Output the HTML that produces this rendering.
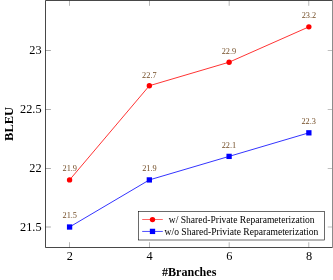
<!DOCTYPE html><html><head><meta charset="utf-8"><style>html,body{margin:0;padding:0;background:#fff}svg{display:block}.t{filter:blur(0.3px)}text{font-family:"Liberation Serif",serif}</style></head><body>
<svg width="333" height="280" viewBox="0 0 333 280">
<rect width="333" height="280" fill="#fff"/>
<rect x="69.30" y="242.2" width="0.55" height="5.3" fill="#808080"/><rect x="69.30" y="0.5" width="0.55" height="5.3" fill="#808080"/>
<rect x="149.06" y="242.2" width="0.55" height="5.3" fill="#808080"/><rect x="149.06" y="0.5" width="0.55" height="5.3" fill="#808080"/>
<rect x="228.83" y="242.2" width="0.55" height="5.3" fill="#808080"/><rect x="228.83" y="0.5" width="0.55" height="5.3" fill="#808080"/>
<rect x="308.59" y="242.2" width="0.55" height="5.3" fill="#808080"/><rect x="308.59" y="0.5" width="0.55" height="5.3" fill="#808080"/>
<rect x="45.5" y="50.12" width="5.4" height="0.66" fill="#808080"/><rect x="327.7" y="50.20" width="4.6" height="0.5" fill="#808080"/>
<rect x="45.5" y="109.09" width="5.4" height="0.66" fill="#808080"/><rect x="327.7" y="109.17" width="4.6" height="0.5" fill="#808080"/>
<rect x="45.5" y="168.09" width="5.4" height="0.66" fill="#808080"/><rect x="327.7" y="168.17" width="4.6" height="0.5" fill="#808080"/>
<rect x="45.5" y="226.67" width="5.4" height="0.66" fill="#808080"/><rect x="327.7" y="226.75" width="4.6" height="0.5" fill="#808080"/>
<path d="M332.5 0.5 H45.5 V247.5 H332.5" fill="none" stroke="#000" stroke-width="0.72" stroke-linecap="square"/>
<rect x="332" y="0" width="1" height="248" fill="#8c8c8c"/>
<polyline points="69.58,179.92 149.34,85.74 229.10,62.19 308.86,26.87" fill="none" stroke="#f00" stroke-width="0.8"/>
<polyline points="69.58,227.01 149.34,179.92 229.10,156.38 308.86,132.83" fill="none" stroke="#00f" stroke-width="0.8"/>
<circle cx="69.58" cy="179.92" r="2.7" fill="#f00"/>
<circle cx="149.34" cy="85.74" r="2.7" fill="#f00"/>
<circle cx="229.10" cy="62.19" r="2.7" fill="#f00"/>
<circle cx="308.86" cy="26.87" r="2.7" fill="#f00"/>
<rect x="66.93" y="224.36" width="5.3" height="5.3" fill="#00f"/>
<rect x="146.69" y="177.27" width="5.3" height="5.3" fill="#00f"/>
<rect x="226.45" y="153.73" width="5.3" height="5.3" fill="#00f"/>
<rect x="306.21" y="130.18" width="5.3" height="5.3" fill="#00f"/>
<g class="t">
<text x="69.78" y="171.2" font-size="8.3" fill="#734d26" text-anchor="middle">21.9</text>
<text x="149.39" y="77.5" font-size="8.3" fill="#734d26" text-anchor="middle">22.7</text>
<text x="228.95" y="54" font-size="8.3" fill="#734d26" text-anchor="middle">22.9</text>
<text x="308.96" y="18" font-size="8.3" fill="#734d26" text-anchor="middle">23.2</text>
<text x="69.78" y="218" font-size="8.3" fill="#734d26" text-anchor="middle">21.5</text>
<text x="149.49" y="171" font-size="8.3" fill="#734d26" text-anchor="middle">21.9</text>
<text x="228.95" y="148" font-size="8.3" fill="#734d26" text-anchor="middle">22.1</text>
<text x="308.66" y="124" font-size="8.3" fill="#734d26" text-anchor="middle">22.3</text>
<text x="69.88" y="259.5" font-size="12.3" text-anchor="middle" fill="#000">2</text>
<text x="149.64" y="259.5" font-size="12.3" text-anchor="middle" fill="#000">4</text>
<text x="229.40" y="259.5" font-size="12.3" text-anchor="middle" fill="#000">6</text>
<text x="309.16" y="259.5" font-size="12.3" text-anchor="middle" fill="#000">8</text>
<text x="41.6" y="230.71" font-size="12.3" text-anchor="end" fill="#000">21.5</text>
<text x="41.6" y="171.85" font-size="12.3" text-anchor="end" fill="#000">22</text>
<text x="41.6" y="112.98" font-size="12.3" text-anchor="end" fill="#000">22.5</text>
<text x="41.6" y="54.12" font-size="12.3" text-anchor="end" fill="#000">23</text>
<text x="189.2" y="275.9" font-size="12.1" font-weight="bold" text-anchor="middle">#Branches</text>
<text transform="translate(12.6,123.9) rotate(-90)" font-size="12.5" font-weight="bold" text-anchor="middle">BLEU</text>
</g>
<rect x="138.5" y="211.5" width="185.8" height="28.5" fill="#fff" stroke="#000" stroke-width="0.58"/>
<path d="M142.2 219.5 h20.6" stroke="#f00" stroke-width="0.6"/><circle cx="152.5" cy="219.6" r="2.7" fill="#f00"/>
<path d="M142.2 231.45 h20.6" stroke="#00f" stroke-width="0.7"/><rect x="149.85" y="228.75" width="5.3" height="5.3" fill="#00f"/>
<g class="t"><text x="168.8" y="223" font-size="9.56">w/ Shared-Private Reparameterization</text>
<text x="164.6" y="234.8" font-size="9.58">w/o Shared-Priviate Reparameterization</text></g>
</svg></body></html>
